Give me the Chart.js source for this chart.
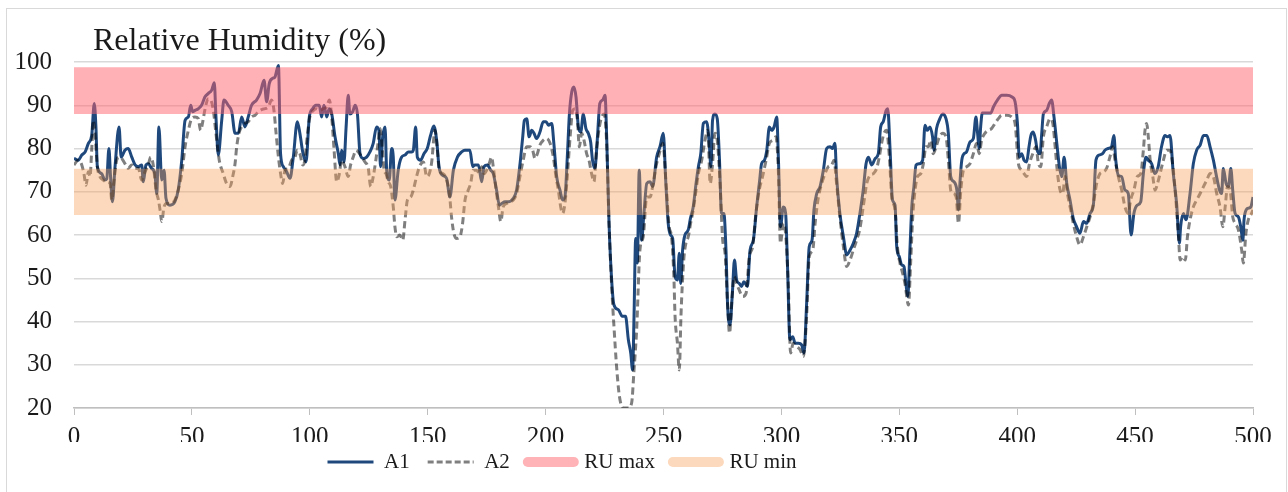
<!DOCTYPE html>
<html>
<head>
<meta charset="utf-8">
<title>Relative Humidity (%)</title>
<script src="https://cdn.jsdelivr.net/npm/chart.js@4.4.1/dist/chart.umd.min.js"></script>
<style>
  html, body { margin: 0; padding: 0; background: #fff; overflow: hidden; }
  #frame {
    position: absolute; left: 6px; top: 8px;
    width: 1281px; height: 490px;
    box-sizing: border-box; border: 1px solid #d9d9d9;
  }
  #box { position: absolute; left: 0; top: 0; width: 1279px; height: 482px; }
</style>
</head>
<body>
<div id="frame"><div id="box"><canvas id="chart"></canvas></div></div>
<script>
// values
const chartTitle = 'Relative Humidity (%)';
const xRange = [0, 500];
const xStep = 50;
const yRange = [20, 100];
const yStep = 10;

// comfort bands [bottom, top]
const ruMax = [88, 98.8];
const ruMin = [64.6, 75.3];

// [time, humidity] vertices
const a1 = [
  [0,77.7],[1.8,77.3],[3.3,78.5],[4.7,79.2],[6.1,81.2],[7.5,83],[8.6,90.4],[9.3,85],[9.9,75.8],[11.7,74.2],
  [13.1,72.7],[13.9,73],[14.8,80],[15.5,73.5],[16.3,67.7],[17.4,75.8],[19.1,85],[20,78],[21.6,79.6],[23,80],
  [24.5,78],[25.9,76.2],[27.3,75.8],[28.7,76.2],[29.4,72.3],[30.5,76.2],[31.5,76.5],[32.9,75.4],[34.3,74.2],[35.1,69.6],
  [36,85],[37.2,72.7],[38.2,75],[39,68.5],[40.7,66.9],[42.8,67.7],[44.2,70.4],[45.7,77.3],[47.1,86.5],[48.5,87.3],
  [49.5,90],[50.3,88.5],[51.3,88.8],[52.7,89.2],[54.1,90],[55.5,91.9],[56.9,92.7],[58.4,93.5],[59.5,95.2],[60.2,87.3],
  [61.2,78.5],[62.6,86.2],[63.6,91.2],[65.4,90],[66.9,88.5],[68.3,83.5],[69.7,83.5],[71.1,87.3],[72.5,85],[73.9,87.3],
  [75.3,90],[77.4,91.2],[78.9,92.7],[80.6,95.8],[81.7,90.8],[82.8,95],[84.2,96.2],[85.2,96.5],[86.7,99.2],[87.6,78.8],
  [88.8,75.8],[90.2,74.6],[91.6,73.1],[93,78],[94.7,86.2],[95.8,83.5],[97,79.2],[98.4,76.9],[99.8,87.3],[101.2,89.2],
  [102.6,90],[104,90],[105,87.3],[106,90],[107.2,87.3],[108.2,89.2],[109.3,88],[110.7,82.7],[112.1,78.8],[112.8,76.2],
  [113.5,79.6],[114.5,76.9],[115.4,85],[116.3,92.3],[117,88],[118.2,88.5],[119.2,90],[120.2,88],[121.3,78.8],[122.7,77.7],
  [124.1,78],[125.5,79.2],[126.9,81.2],[128.3,85],[129.3,84.2],[130,75.8],[130.9,82.7],[131.9,85],[132.6,75],[133.7,72.7],
  [134.7,80],[135.4,78],[136.1,68.1],[137.5,75],[138.9,78],[140.4,78.5],[141.8,79.2],[143.2,79.2],[143.9,79.6],[144.9,85],
  [145.6,78],[147,77.3],[148.4,78.8],[149.8,80],[151.2,83],[152.6,85.2],[153.8,81.9],[154.8,75.8],[156.3,73.8],[158,73.1],
  [159.4,68.8],[160.9,75],[162.6,78],[164.4,79.2],[165.8,79.6],[167.9,79.6],[169.1,75.8],[170,76.2],[171.5,76.2],[172.9,72.3],
  [173.9,75.8],[175.3,76.2],[176.7,75],[177.8,74.2],[179.2,70.4],[180.4,66.9],[181.4,67.3],[182.8,67.7],[184.2,67.7],[186.3,68.5],
  [187.7,70.4],[189.1,76.2],[190.3,82.7],[191,86.5],[192,86.9],[193,82.7],[194.1,84.2],[195.1,83.5],[196.2,82.3],[197.6,83.8],
  [199,86.2],[200.2,86.2],[201.2,85.4],[202.6,85.8],[203.5,81.2],[204.7,73.5],[206.1,70.4],[207.2,68.1],[208.2,68.8],[209.2,78],
  [210.1,88],[211.1,93.1],[212,94.2],[212.9,91.9],[213.9,85],[214.9,83.8],[216,88],[217.1,84.6],[218.1,83.5],[219.1,81.5],
  [219.9,77.3],[220.9,75.4],[221.9,81.9],[223,90.4],[224.2,91.2],[225.2,92.3],[225.9,82.7],[226.9,62.7],[228.1,48.8],[229,43.8],
  [230.9,42.7],[232.5,41.2],[233.9,41.2],[235.1,35.8],[236.1,32.7],[236.9,28.8],[237.5,41.2],[238.2,59.2],[238.9,53.5],[239.7,75],
  [240.7,58.8],[241.7,65],[242.9,71.9],[244.3,72.3],[245.4,71.2],[247.1,78],[248.5,80.4],[249.9,83.5],[251,71.9],[252,62.7],
  [253,60],[253.9,59.2],[254.9,50.4],[255.9,49.6],[256.7,55.8],[257.3,48.8],[258.1,56.5],[259.1,60],[260.5,61.2],[261.4,63.8],
  [262.6,66.5],[263.8,71.9],[264.8,75.8],[265.8,78.8],[266.9,85.8],[268.3,86.2],[269.4,81.2],[270.1,75.8],[270.8,86.5],[271.8,88],
  [272.8,86.9],[273.7,78],[274.6,65],[275.6,65],[276.5,56.5],[277.2,43.5],[278.2,39.2],[279.2,46.5],[280.1,54.2],[281,49.6],
  [282.1,48.8],[283.1,48.1],[284.1,49.2],[285.6,48.1],[286.7,56.5],[288.1,58.8],[289.5,66.5],[290.7,72.3],[291.6,76.5],[292.8,77.3],
  [293.8,79.6],[294.9,85],[295.9,84.2],[296.9,85],[298,87.3],[298.8,76.5],[299.6,61.9],[300.8,66.5],[301.8,65],[302.6,52.7],
  [303.6,35.8],[304.8,36.5],[305.8,35],[307.2,35],[308.6,34.6],[309.6,32.7],[310.7,44.2],[311.8,57.3],[313,58.8],[313.8,65.8],
  [315,69.6],[316.4,71.2],[317.8,75],[319.2,80],[320.6,80.4],[321.7,80],[322.7,81.2],[323.4,73.5],[324.8,65],[326.3,59.6],
  [327.7,55.4],[329.1,56.5],[330.5,58.1],[331.9,60.4],[333.3,65],[334.7,70.4],[335.9,76.5],[336.9,78],[338.3,76.2],[339.8,77.7],
  [341.1,78.8],[342.1,85],[343.2,86.2],[344.4,88.8],[345.1,89.2],[346.1,79.6],[347.1,68.1],[348.2,66.9],[348.9,57.3],[350,55],
  [351,53.1],[352,52.7],[352.8,48.8],[353.6,45.8],[354.5,56.5],[355.3,66.5],[356.2,71.2],[357.1,76.2],[358.5,76.5],[359.9,77.3],
  [360.9,85.4],[361.9,84.2],[363,85],[364.1,82.7],[364.7,79.6],[365.8,84.6],[366.9,86.5],[368.4,88],[369.8,86.9],[370.8,83.5],
  [371.8,73.5],[373.2,72.3],[374.4,70.4],[375.1,65.8],[375.7,71.9],[376.5,77.3],[377.5,78.8],[378.5,79.2],[380,81.5],[381.4,82.3],
  [382.5,87.3],[383.2,83.5],[383.9,80],[384.5,85],[385.2,88.2],[388.8,88.2],[389.9,89.6],[391.6,91.2],[393.5,92.3],[395.6,92.3],
  [397.8,91.9],[399.1,90.8],[400.1,85.8],[400.9,78],[401.9,78.8],[402.9,77.3],[404,76.9],[405,80.4],[405.8,83],[406.8,83.8],
  [407.8,81.9],[408.5,79.6],[409.7,78.8],[410.4,83.5],[411.1,88],[412.5,88.8],[413.6,90.4],[414.6,91.2],[415.6,87.3],[416.8,81.2],
  [417.9,75.8],[418.9,73.5],[419.9,78],[421,72],[422.4,68.1],[423.8,63.8],[425.2,61.9],[426.6,60.4],[428.1,63.1],[429.5,62.7],
  [430.9,65],[432.3,66.9],[433.4,77.3],[434.8,78.5],[436.2,78.8],[437.2,79.6],[438.6,80],[440,80.4],[441,83],[441.8,77.3],
  [442.9,73.8],[444.3,73.5],[445.7,70.4],[447.1,69.6],[448.3,60],[449.5,65],[450.9,66.9],[452.4,67.7],[453.5,74.2],[454.6,78],
  [455.6,77.3],[457,76.5],[458.4,74.2],[459.8,75.8],[461.2,80.4],[462.7,83],[463.6,82.7],[464.8,83],[466.2,74.2],[467.6,67.3],
  [468.8,58.1],[469.3,61.9],[470.5,65],[471.6,63.5],[473.3,69.6],[474.7,76.5],[476.1,79.6],[477.6,80.8],[479,83],[480.4,83],
  [481.8,80.4],[483.2,77.3],[484.3,74.2],[485.8,70.4],[486.7,69.6],[487.4,75.4],[488.6,71.9],[489.6,71.2],[490.6,75.4],[491.4,70.4],
  [492.4,65],[493.8,64.2],[494.8,61.9],[495.7,58.8],[496.2,63.5],[497.1,65.8],[498.1,66.2],[499.1,66.5],[500,68.8]
];

const a2 = [
  [0,76.2],[1.8,77.3],[3.3,76.2],[4.2,74.2],[5.1,71.5],[6.1,74.6],[6.8,73.5],[7.5,79.6],[8.2,86.5],[8.9,83.5],
  [9.9,75.8],[11,73.5],[12.4,72.7],[13.9,72.3],[15.3,71.9],[16,68.1],[17,72.7],[18.1,77.3],[19.2,78],[20.2,77.7],
  [21.6,76.5],[23,75.4],[24.5,76.2],[25.9,75.4],[27.3,75.4],[28.7,72.7],[30.1,74.6],[31.5,76.2],[32.5,78],[33.6,76.2],
  [34.8,70.4],[35.8,68.1],[36.5,65.8],[37.2,63.1],[38.2,66.5],[39.3,67.3],[40.7,67.3],[42.8,68.1],[44.2,70.4],[45.7,74.2],
  [47.1,80.4],[48.5,84.2],[49.9,86.9],[51.3,87.3],[52.7,86.9],[53.7,84.2],[54.6,86.2],[55.6,89.2],[56.9,91.5],[58,91.2],
  [59.1,88.8],[60.2,83.5],[61.6,77.3],[63.3,74.2],[64.7,71.9],[66.2,71.2],[67.3,73.5],[68.3,76.5],[69,80.4],[70.1,83.8],
  [71.1,85],[72.5,85.8],[73.9,86.2],[75.3,87.3],[76.8,87.7],[78.2,88.5],[79.6,89],[81,89.2],[82.4,89.6],[83.8,91.2],
  [84.8,88.8],[85.7,83.5],[86.7,78],[87.6,74.2],[88.5,71.9],[89.5,75],[90.9,75.4],[92.3,77.3],[93.7,78],[94.7,79.6],
  [95.8,78.8],[97,76.2],[97.9,77.3],[98.9,82.7],[100,87.3],[101.5,88.8],[102.9,89.2],[104.3,88.8],[105.7,89.2],[107.1,89.6],
  [108.3,91.2],[109.3,87.3],[110.3,79.6],[111.4,72.3],[112.4,73.8],[113.5,77.3],[114.9,75.8],[116.3,73.5],[117.3,76.2],[118.4,78],
  [119.6,79.6],[120.6,79.2],[122,78],[123.4,76.9],[124.8,75.4],[125.8,71.2],[126.9,73.5],[128,77.3],[129.1,81.9],[129.8,84.6],
  [130.8,79.6],[131.5,75],[132.3,74.2],[133.3,72.3],[134.3,71.2],[135.4,66.5],[136.1,61.9],[136.9,59.6],[138.2,60],[139.4,58.8],
  [140.4,63.5],[141.4,68.1],[142.8,68.8],[143.9,70.4],[145.1,73.1],[146.5,75.8],[148.2,76.9],[149.6,73.5],[150.7,74.2],[151.7,76.9],
  [153.1,84.2],[154.1,79.6],[154.9,75],[156.4,74.2],[157.8,73.1],[159.2,69.6],[160.1,64.2],[161.1,60.4],[162.3,59.2],[163.7,59.6],
  [164.8,62.7],[165.8,68],[167.2,70.4],[168.2,71.9],[169.3,75],[170.8,75],[171.9,74.2],[172.9,75.8],[173.9,74.2],[175,75],
  [176.1,76.5],[177.1,78],[177.8,75.8],[179,70.4],[180,66.5],[181,63.1],[182,66.5],[183.5,67.3],[184.9,67.7],[186.3,68.1],
  [187.7,69.6],[189.1,73.5],[190.5,77.3],[192,80.4],[193.4,80.4],[194.5,79.6],[195.5,77.7],[196.5,78.8],[197.6,80.8],[199,81.9],
  [200.4,82.3],[201.9,81.2],[203.3,78],[204.4,73.5],[205.4,70.4],[206.4,66.5],[207.2,65],[208.2,67.3],[209.2,73.5],[210.4,82.7],
  [211.5,88.8],[212.5,89.2],[213.5,86.5],[214.3,80.4],[215.3,83.5],[216.3,81.9],[217.4,78.8],[218.4,77.3],[219.5,74.2],[220.5,72.3],
  [221.6,79.6],[222.8,85],[223.8,87.3],[224.8,88],[225.9,81.2],[226.9,62.7],[228.1,47.3],[229,38.8],[230.1,29.6],[231.3,22.7],
  [233,20],[235.1,20],[236.5,21.2],[237.5,28.8],[238.6,38],[240,56.5],[241.4,59.6],[242.9,68.8],[244.3,68.8],[245.4,71.2],
  [246.8,75.8],[248.2,78.8],[249.7,81.2],[251.2,71],[252.4,61.9],[253.4,59.6],[254.4,50.4],[254.9,41.2],[255.9,35],[256.7,28.8],
  [257.4,41.2],[258,48.8],[258.7,55],[259.5,58.1],[260.5,59.6],[261.5,62.7],[262.6,65.8],[263.8,70.4],[264.8,74.2],[266.2,77.3],
  [267.6,81.9],[268.8,84.2],[269.8,71.9],[270.8,76.5],[271.8,83.5],[272.8,81.9],[274,71.9],[275.1,58.8],[276.1,55.8],[277.1,45],
  [278,37.3],[279,45],[280,50.4],[281,48.8],[282.1,47.3],[283.5,45.8],[285,46.5],[286.4,55],[287.8,57.3],[289.2,65],
  [290.6,70.4],[292,73.5],[293.5,77.3],[294.9,81.2],[296.3,81.9],[297.7,82.7],[298.7,75],[299.6,58.1],[300.8,62.7],[301.9,59.6],
  [302.9,48.8],[303.9,32.7],[305,35],[306.5,34.2],[307.9,33.5],[309.3,31.9],[310.7,41.2],[311.8,55],[313.3,56.5],[314.3,62.7],
  [315.7,68.8],[317.1,71.9],[318.5,74.2],[319.9,75.8],[321.3,76.2],[322.3,77.3],[323.4,71.9],[324.8,64.2],[326.3,57.3],[327.7,52.7],
  [329.1,54.2],[330.5,56.5],[331.9,58.8],[333.3,61.5],[334.7,66.5],[336.2,71.9],[337.6,73.8],[339,74.2],[340.4,75.4],[341.5,78],
  [342.5,81.2],[343.5,83.5],[344.6,84.2],[345.8,78],[346.8,68.8],[348.2,65.8],[349.2,57.3],[350.3,53.5],[351.4,51.2],[352.4,48.8],
  [353.9,43.8],[354.8,53.5],[355.7,64.2],[356.7,70.4],[357.7,73.5],[359.1,74.2],[360.2,76.5],[361.3,80.4],[362.3,80.4],[363.3,81.9],
  [364.4,78.8],[365.6,80.4],[367,82.7],[368.4,83.5],[369.8,82.7],[370.8,77.3],[371.8,70.4],[372.9,69.6],[374.1,68.8],[375.1,62.7],
  [376.1,70.4],[377.2,75],[378.6,75.8],[380,76.5],[381.4,78.8],[382.8,81.2],[383.9,78.8],[384.9,81.9],[386.3,83.5],[387.7,84.2],
  [389.1,84.6],[390.6,85.8],[392,86.9],[393.4,87.7],[395.6,87.7],[397.7,87.3],[399.1,85.8],[400.5,76.5],[401.9,75],[402.9,74.2],
  [404,73.5],[405.2,76.5],[406.6,78.8],[408,80.4],[409,76.5],[410,75.8],[411.1,82.7],[412.5,85],[413.9,86.9],[415.1,85.8],
  [416.1,80.4],[417.1,74.2],[418.2,70.4],[419.3,69.6],[420.3,73.5],[421.3,69.6],[422.7,65.8],[423.8,62.7],[425.2,59.6],[426.6,57.7],
  [428.1,59.6],[429.5,61.9],[430.9,64.2],[432.3,67.3],[433.7,71.9],[435.1,74.2],[436.5,74.6],[437.9,75.4],[439.3,78],[440.5,80.4],
  [441.5,77.3],[442.9,73.5],[444.3,70.4],[445.7,66.5],[447.1,65],[448.1,68.1],[449.5,70.4],[450.9,73.5],[452.4,74.2],[453.5,79.6],
  [454.2,84.2],[454.9,85.8],[455.6,82.7],[456.4,77.3],[457.5,73.5],[458.5,70.4],[459.5,71.9],[460.6,74.2],[462,77.3],[463.4,79.6],
  [464.8,79.6],[466.2,75],[467.4,67.3],[468.4,59.6],[469.1,54.2],[470.2,55],[471.3,54.2],[472.2,59.6],[473.3,63.5],[474.7,66.5],
  [476.1,68.1],[477.6,69.6],[479,71.2],[480.4,72.7],[481.8,74.2],[483.2,73.5],[484.6,69.6],[486,66.5],[487.2,61.9],[488.2,66.5],
  [489.2,71.2],[490.3,70.4],[491.4,64.2],[492.4,62.7],[493.8,61.2],[495.2,56.5],[495.9,53.5],[497,60.4],[498,63.5],[499.4,65],
  [500,65.8]
];

const FONT = '"Liberation Serif", "Times New Roman", serif';
const TEXT = '#1a1a1a';
const NAVY = '#1f497d';
const GREY = 'rgba(0, 0, 0, 0.5)';
const PINK = 'rgba(255, 100, 110, 0.5)';
const PEACH = 'rgba(248, 160, 90, 0.4)';

const toPoints = arr => arr.map(([x, y]) => ({ x, y }));
const band = (r) => xRange.map(x => ({ x, y: r[1] }));

// title sits above the plot, left aligned with a small indent
const cornerTitle = {
    id: 'cornerTitle',
    afterDraw(chart) {
        const { ctx, chartArea } = chart;
        ctx.save();
        ctx.font = '32px ' + FONT;
        ctx.fillStyle = TEXT;
        ctx.textBaseline = 'alphabetic';
        ctx.fillText(chartTitle, chartArea.left + 19, chartArea.top - 12);
        ctx.restore();
    }
};

// nudge the legend row to where the reference has it
const legendPlace = {
    id: 'legendPlace',
    afterLayout(chart) {
        const lg = chart.legend;
        const w = lg.right - lg.left;
        const h = lg.bottom - lg.top;
        lg.left = 555 - w / 2;
        lg.right = lg.left + w;
        lg.top = 453 - 18 - 10.5;
        lg.bottom = lg.top + h;
    }
};

new Chart(document.getElementById('chart'), {
    type: 'line',
    data: {
        datasets: [
            {
                label: 'A1',
                data: toPoints(a1),
                borderColor: NAVY,
                borderWidth: 3,
                pointRadius: 0,
                cubicInterpolationMode: 'monotone',
                fill: false,
                order: 4,
            },
            {
                label: 'A2',
                data: toPoints(a2),
                borderColor: GREY,
                borderWidth: 3,
                borderDash: [7, 4],
                pointRadius: 0,
                cubicInterpolationMode: 'monotone',
                fill: false,
                order: 3,
            },
            {
                label: 'RU max',
                data: band(ruMax),
                borderWidth: 0,
                pointRadius: 0,
                backgroundColor: PINK,
                fill: { value: ruMax[0] },
                order: 2,
            },
            {
                label: 'RU min',
                data: band(ruMin),
                borderWidth: 0,
                pointRadius: 0,
                backgroundColor: PEACH,
                fill: { value: ruMin[0] },
                order: 1,
            },
        ]
    },
    options: {
        responsive: true,
        maintainAspectRatio: false,
        animation: false,
        layout: { padding: { left: 6, right: 33, top: 53, bottom: 0 } },
        plugins: {
            tooltip: { enabled: false },
            legend: {
                position: 'bottom',
                labels: {
                    usePointStyle: true,
                    pointStyleWidth: 46,
                    padding: 18,
                    color: TEXT,
                    font: { family: FONT, size: 21 },
                    generateLabels: () => [
                        { text: 'A1', strokeStyle: NAVY, fillStyle: NAVY, lineWidth: 3, pointStyle: 'line', lineDash: [], datasetIndex: 0, fontColor: TEXT },
                        { text: 'A2', strokeStyle: GREY, fillStyle: GREY, lineWidth: 3, pointStyle: 'line', lineDash: [6, 3], datasetIndex: 1, fontColor: TEXT },
                        { text: 'RU max', strokeStyle: '#ffb3b6', fillStyle: '#ffb3b6', lineWidth: 10, lineCap: 'round', pointStyle: 'line', lineDash: [], datasetIndex: 2, fontColor: TEXT },
                        { text: 'RU min', strokeStyle: '#fcd9bc', fillStyle: '#fcd9bc', lineWidth: 10, lineCap: 'round', pointStyle: 'line', lineDash: [], datasetIndex: 3, fontColor: TEXT },
                    ],
                },
            },
        },
        scales: {
            x: {
                type: 'linear',
                min: xRange[0],
                max: xRange[1],
                afterFit: s => { s.height = 34; },
                ticks: {
                    stepSize: xStep,
                    padding: 7,
                    color: TEXT,
                    font: { family: FONT, size: 25 },
                    maxRotation: 0,
                },
                grid: { drawOnChartArea: false, drawTicks: true, tickLength: 7, color: '#bfbfbf' },
                border: { color: '#bfbfbf', width: 1.5 },
            },
            y: {
                min: yRange[0],
                max: yRange[1],
                afterFit: s => { s.width = 61; },
                ticks: {
                    stepSize: yStep,
                    padding: 22,
                    color: TEXT,
                    font: { family: FONT, size: 25 },
                },
                grid: { color: '#d9d9d9', lineWidth: 1.5, drawTicks: false },
                border: { display: false },
            },
        },
    },
    plugins: [cornerTitle, legendPlace],
});
</script>
</body>
</html>
